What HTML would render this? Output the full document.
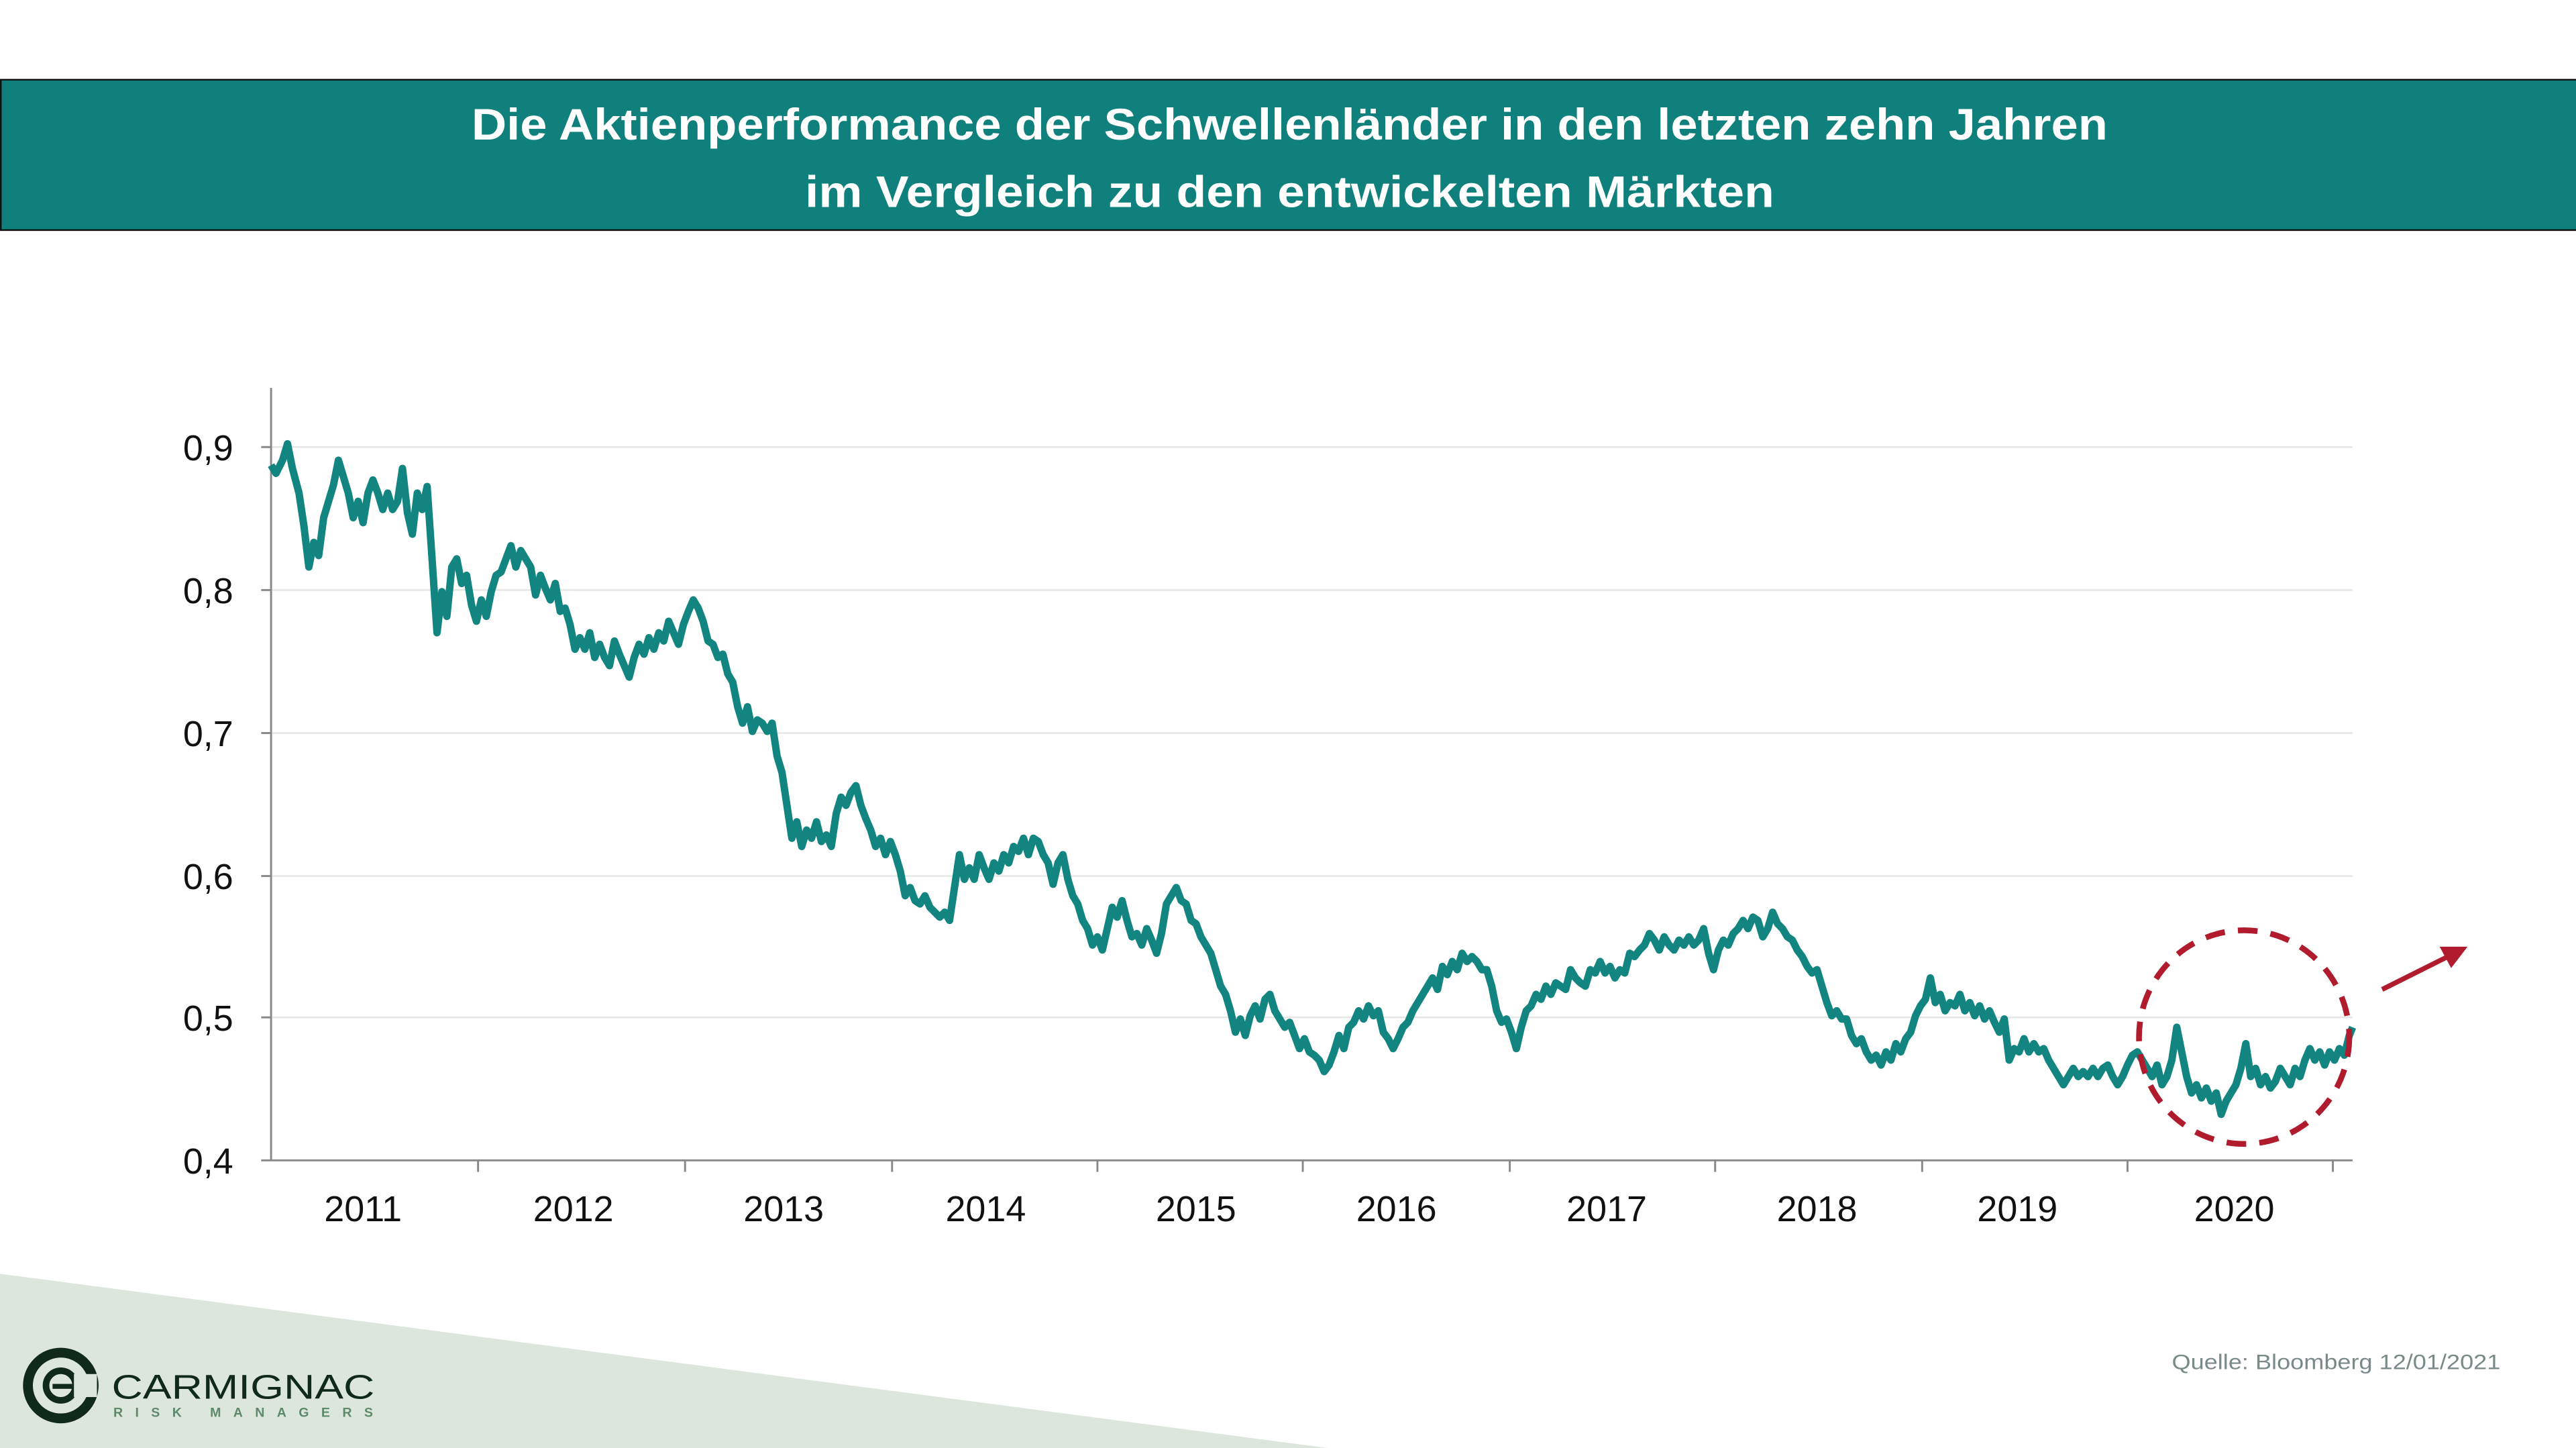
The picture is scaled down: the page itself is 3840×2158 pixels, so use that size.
<!DOCTYPE html>
<html><head><meta charset="utf-8"><style>html,body{margin:0;padding:0;background:#fff}svg{display:block}</style></head>
<body>
<svg width="3840" height="2158" viewBox="0 0 1568 881" preserveAspectRatio="none" xmlns="http://www.w3.org/2000/svg" font-family="Liberation Sans, sans-serif">
<rect width="1568" height="881" fill="#fff"/>
<polygon points="0,775 808,881 0,881" fill="#dce6dc"/>
<rect x="0.5" y="48.5" width="1568" height="91.5" fill="#10807c" stroke="#111" stroke-width="1"/>
<text x="785" y="85" text-anchor="middle" fill="#fff" font-weight="bold" font-size="27" textLength="996" lengthAdjust="spacingAndGlyphs">Die Aktienperformance der Schwellenländer in den letzten zehn Jahren</text>
<text x="785" y="126" text-anchor="middle" fill="#fff" font-weight="bold" font-size="27" textLength="590" lengthAdjust="spacingAndGlyphs">im Vergleich zu den entwickelten Märkten</text>
<g stroke="#e6e6e6" stroke-width="1">
<line x1="165" y1="272" x2="1432" y2="272"/><line x1="165" y1="359" x2="1432" y2="359"/><line x1="165" y1="446" x2="1432" y2="446"/><line x1="165" y1="533" x2="1432" y2="533"/><line x1="165" y1="619" x2="1432" y2="619"/>
</g>
<g stroke="#888" stroke-width="1.2">
<line x1="165" y1="236" x2="165" y2="706"/><line x1="165" y1="706" x2="1432" y2="706"/>
<line x1="159" y1="272" x2="165" y2="272"/><line x1="159" y1="359" x2="165" y2="359"/><line x1="159" y1="446" x2="165" y2="446"/><line x1="159" y1="533" x2="165" y2="533"/><line x1="159" y1="619" x2="165" y2="619"/><line x1="159" y1="706" x2="165" y2="706"/>
<line x1="291" y1="706" x2="291" y2="713"/><line x1="417" y1="706" x2="417" y2="713"/><line x1="543" y1="706" x2="543" y2="713"/><line x1="668" y1="706" x2="668" y2="713"/><line x1="793" y1="706" x2="793" y2="713"/><line x1="919" y1="706" x2="919" y2="713"/><line x1="1044" y1="706" x2="1044" y2="713"/><line x1="1170" y1="706" x2="1170" y2="713"/><line x1="1295" y1="706" x2="1295" y2="713"/><line x1="1420" y1="706" x2="1420" y2="713"/>
</g>
<g font-size="22" fill="#111" text-anchor="end">
<text x="142" y="280">0,9</text><text x="142" y="367">0,8</text><text x="142" y="454">0,7</text><text x="142" y="541">0,6</text><text x="142" y="627">0,5</text><text x="142" y="714">0,4</text>
</g>
<g font-size="22" fill="#111" text-anchor="middle">
<text x="221" y="743">2011</text><text x="349" y="743">2012</text><text x="477" y="743">2013</text><text x="600" y="743">2014</text><text x="728" y="743">2015</text><text x="850" y="743">2016</text><text x="978" y="743">2017</text><text x="1106" y="743">2018</text><text x="1228" y="743">2019</text><text x="1360" y="743">2020</text>
</g>
<polyline fill="none" stroke="#138580" stroke-width="4.5" stroke-linejoin="round" points="165,283 168,288 172,280 175,270 178,285 182,300 185,320 188,345 191,330 194,338 197,315 200,305 203,295 206,280 209,290 212,300 215,315 218,305 221,318 224,300 227,292 230,300 233,310 236,300 239,310 242,305 245,285 248,312 251,325 254,300 257,310 260,296 263,340 266,385 269,360 272,375 275,345 278,340 281,355 284,350 287,368 290,378 293,365 296,375 299,360 302,350 305,348 308,340 311,332 314,345 317,335 320,340 323,345 326,362 329,350 332,358 335,365 338,355 341,372 344,370 347,380 350,395 353,388 356,395 359,385 362,400 365,392 368,400 371,405 374,390 377,398 380,405 383,412 386,400 389,392 392,398 395,388 398,395 401,385 404,390 407,378 410,385 413,392 416,380 419,372 422,365 425,370 428,378 431,390 434,392 437,400 440,398 443,410 446,415 449,430 452,440 455,430 458,445 461,438 464,440 467,445 470,440 473,460 476,470 479,490 482,510 485,500 488,515 491,505 494,510 497,500 500,512 503,508 506,515 509,495 512,485 515,490 518,482 521,478 524,490 527,498 530,505 533,515 536,510 539,520 542,512 545,520 548,530 551,545 554,540 557,548 560,550 563,545 566,552 569,555 572,558 575,555 578,560 581,540 584,520 587,535 590,528 593,535 596,520 599,528 602,535 605,525 608,530 611,520 614,525 617,515 620,518 623,510 626,520 629,510 632,512 635,520 638,525 641,538 644,525 647,520 650,535 653,545 656,550 659,560 662,565 665,575 668,570 671,578 674,565 677,552 680,558 683,548 686,560 689,570 692,568 695,575 698,565 701,572 704,580 707,568 710,550 713,545 716,540 719,548 722,550 725,560 728,562 731,570 734,575 737,580 740,590 743,600 746,605 749,615 752,628 755,620 758,630 761,618 764,612 767,620 770,608 773,605 776,615 779,620 782,625 785,622 788,630 791,638 794,632 797,640 800,642 803,645 806,652 809,648 812,640 815,630 818,638 821,625 824,622 827,615 830,620 833,612 836,618 839,615 842,628 845,632 848,638 851,632 854,625 857,622 860,615 863,610 866,605 869,600 872,595 875,602 878,588 881,593 884,585 887,590 890,580 893,585 896,582 899,585 902,590 905,590 908,600 911,615 914,622 917,620 920,628 923,638 926,625 929,615 932,612 935,605 938,608 941,600 944,605 947,598 950,600 953,602 956,590 959,595 962,598 965,600 968,590 971,592 974,585 977,592 980,588 983,595 986,590 989,592 992,580 995,582 998,578 1001,575 1004,568 1007,572 1010,578 1013,570 1016,575 1019,578 1022,572 1025,575 1028,570 1031,575 1034,572 1037,565 1040,580 1043,590 1046,578 1049,572 1052,575 1055,568 1058,565 1061,560 1064,565 1067,558 1070,560 1073,570 1076,565 1079,555 1082,562 1085,565 1088,570 1091,572 1094,578 1097,582 1100,588 1103,592 1106,590 1109,600 1112,610 1115,618 1118,615 1121,620 1124,620 1127,630 1130,635 1133,632 1136,640 1139,645 1142,642 1145,648 1148,640 1151,645 1154,635 1157,640 1160,632 1163,628 1166,618 1169,612 1172,608 1175,595 1178,610 1181,605 1184,615 1187,610 1190,612 1193,605 1196,615 1199,610 1202,618 1205,612 1208,620 1211,615 1214,622 1217,628 1220,620 1223,645 1226,638 1229,640 1232,632 1235,640 1238,635 1241,640 1244,638 1247,645 1250,650 1253,655 1256,660 1259,655 1262,650 1265,655 1268,652 1271,655 1274,650 1277,655 1280,650 1283,648 1286,655 1289,660 1292,655 1295,648 1298,642 1301,640 1304,645 1307,650 1310,655 1313,648 1316,660 1319,655 1322,645 1325,625 1328,640 1331,655 1334,665 1337,660 1340,668 1343,662 1346,670 1349,665 1352,678 1355,670 1358,665 1361,660 1364,650 1367,635 1370,655 1373,650 1376,660 1379,655 1382,662 1385,658 1388,650 1391,655 1394,660 1397,650 1400,655 1403,645 1406,638 1409,645 1412,640 1415,648 1418,640 1421,645 1424,638 1427,642 1430,630 1432,625"/>
<ellipse cx="1366" cy="631" rx="64" ry="65" fill="none" stroke="#b01c2e" stroke-width="3.5" stroke-dasharray="12,8"/>
<line x1="1450" y1="602" x2="1490" y2="582" stroke="#b01c2e" stroke-width="3"/>
<polygon points="1502,576 1485,576 1492,589" fill="#b01c2e"/>
<text x="1522" y="833" text-anchor="end" font-size="13" fill="#7a8a88" textLength="200" lengthAdjust="spacingAndGlyphs">Quelle: Bloomberg 12/01/2021</text>
<g>
<circle cx="37" cy="843" r="20" fill="none" stroke="#0f2a1a" stroke-width="6"/>
<circle cx="37" cy="843" r="9" fill="none" stroke="#0f2a1a" stroke-width="4"/>
<rect x="45" y="836" width="14" height="14" fill="#dce6dc"/>
<rect x="32" y="842" width="12" height="3" fill="#0f2a1a"/>
<text x="68" y="851" font-size="21" fill="#0f2a1a" textLength="160" lengthAdjust="spacingAndGlyphs">CARMIGNAC</text>
<text x="69" y="862" font-size="8" fill="#5c8a6a" textLength="158" lengthAdjust="spacing" font-weight="bold">RISK MANAGERS</text>
</g>
</svg>
</body></html>
